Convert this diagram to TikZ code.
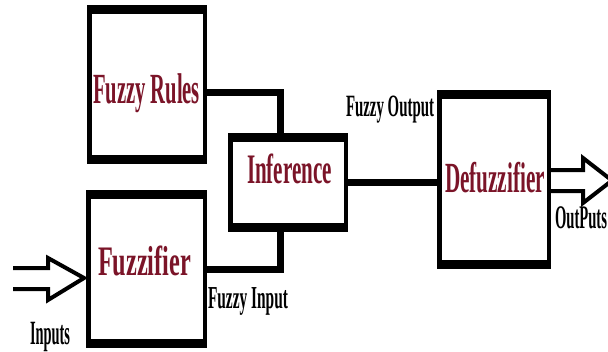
\documentclass[tikz,border=0pt]{standalone}
\usepackage{fontspec}
\setmainfont{Liberation Serif}
\usepackage{graphicx}
\definecolor{labred}{HTML}{7B1428}
\newcommand\sqz[3]{\resizebox{#1}{\height}{\fontsize{#2}{#2}\selectfont\bfseries #3}}
\tikzset{
  blk/.style={draw=black, line width=4.5pt, rectangle, inner sep=0pt, outer sep=0pt, fill=white},
  conn/.style={draw=black, line width=7pt, line join=miter},
  dblarrow/.style={draw=black, line width=4pt, line join=miter, miter limit=10},
  lbl/.style={inner sep=0pt, outer sep=0pt, anchor=base west},
}
\begin{document}
\begin{tikzpicture}[x=1pt,y=-1pt]
\useasboundingbox (0,0) rectangle (608,351);
% boxes (outer extents minus line width)
\node[blk, minimum width=115.5pt, minimum height=154.5pt] (rules) at (147,84.5) {};
\node[blk, minimum width=116.5pt, minimum height=153.5pt] (fuzz) at (146.5,269) {};
\node[blk, minimum width=115.5pt, minimum height=94.5pt] (inf) at (288,182.5) {};
\node[blk, minimum width=109.5pt, minimum height=174.5pt] (defuz) at (494,179.5) {};
% thick top and bottom bands
\foreach \b in {rules,fuzz,inf,defuz}{
  \fill[black] ([xshift=-2.25pt,yshift=2.25pt]\b.north west) rectangle ([xshift=2.25pt,yshift=-6.75pt]\b.north east);
  \fill[black] ([xshift=-2.25pt,yshift=-2.25pt]\b.south west) rectangle ([xshift=2.25pt,yshift=6.75pt]\b.south east);
}
% connectors
\draw[conn] ([yshift=-7.5pt]rules.east) -| ([xshift=-8pt]inf.north);
\draw[conn] (fuzz.east) -| ([xshift=-8pt]inf.south);
\draw[conn] (inf.east) -- (inf.east -| defuz.west);
% input arrow
\coordinate (intip) at (84,278);
\draw[dblarrow] (intip) ++(-71,-10) -- ++(35,0) -- ++(0,-10) -- (intip) -- ++(-36,22) -- ++(0,-11) -- ++(-35,0);
% output arrow
\coordinate (outtip) at (612,180.5);
\draw[dblarrow] ([xshift=2.25pt]defuz.east |- 0,170) -- (583,170) -- (583,158) -- (outtip) -- (583,203) -- (583,191) -- ([xshift=2.25pt]defuz.east |- 0,191);
% labels
\node[lbl, text=labred] (tRules) at (93,103) {\sqz{107pt}{43pt}{Fuzzy Rules}};
\node[lbl, text=labred] (tFuzz) at (98,275) {\sqz{93pt}{42pt}{Fuzzifier}};
\node[lbl, text=labred] (tInf) at (247,183) {\sqz{85pt}{42pt}{Inference}};
\node[lbl, text=labred] (tDef) at (445,192) {\sqz{100pt}{43pt}{Defuzzifier}};
\node[lbl] (tFO) at (346,116) {\sqz{88pt}{31pt}{Fuzzy Output}};
\node[lbl] (tFI) at (208,308) {\sqz{80pt}{32pt}{Fuzzy Input}};
\node[lbl] (tIn) at (30,344) {\sqz{40pt}{34pt}{Inputs}};
\node[lbl] (tOut) at (555,228) {\sqz{52pt}{33pt}{OutPuts}};
\end{tikzpicture}
\end{document}
